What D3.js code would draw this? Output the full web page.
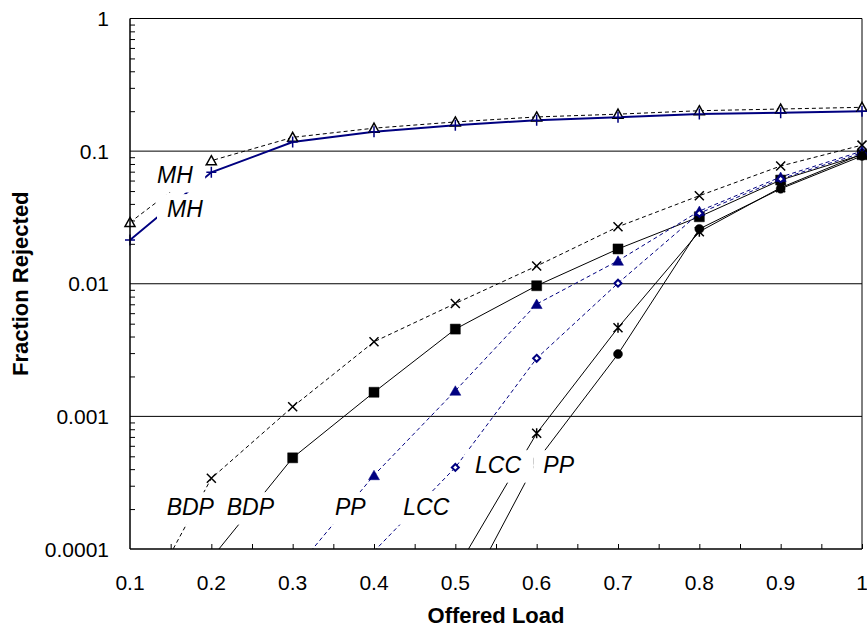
<!DOCTYPE html>
<html>
<head>
<meta charset="utf-8">
<script src="https://cdn.jsdelivr.net/npm/d3@7"></script>
<style>
body { margin: 0; background: #fff; }
svg { display: block; font-family: Arial, "Liberation Sans", sans-serif; }
</style>
</head>
<body>
<div id="container"><svg></svg></div>
<script>
// offered load (x) for every series
let loads = [0.1, 0.2, 0.3, 0.4, 0.5, 0.6, 0.7, 0.8, 0.9, 1.0]

// fraction rejected (null = not drawn)
let mhDashed  = [0.029, 0.0847, 0.127, 0.149, 0.166, 0.181, 0.19, 0.2017, 0.2077, 0.214]
let mhSolid   = [0.0214, 0.0692, 0.117, 0.140, 0.157, 0.171, 0.18, 0.1905, 0.195, 0.1995]
let bdpDashed = [2.5e-5, 3.41e-4, 1.18e-3, 3.65e-3, 7.1e-3, 0.0136, 0.0269, 0.0461, 0.0772, 0.111]
let bdpSolid  = [2e-5, 8.5e-5, 4.87e-4, 1.52e-3, 4.55e-3, 9.66e-3, 0.0183, 0.032, 0.0605, 0.094]
let ppDashed  = [null, null, 6.6e-5, 3.6e-4, 1.56e-3, 7.03e-3, 0.0149, 0.0353, 0.0638, 0.1]
let lccDashed = [null, null, null, 9.6e-5, 4.12e-4, 2.74e-3, 0.0101, 0.034, 0.0617, 0.097]
let lccSolid  = [null, null, null, null, 6.8e-5, 7.45e-4, 4.66e-3, 0.0247, 0.053, 0.095]
let ppSolid   = [null, null, null, null, 3.2e-5, 4.6e-4, 2.95e-3, 0.0259, 0.052, 0.092]

let xTickValues = [0.1, 0.2, 0.3, 0.4, 0.5, 0.6, 0.7, 0.8, 0.9, 1]
let xTickLabels = ['0.1', '0.2', '0.3', '0.4', '0.5', '0.6', '0.7', '0.8', '0.9', '1']
let yTickValues = [0.0001, 0.001, 0.01, 0.1, 1]
let yTickLabels = ['0.0001', '0.001', '0.01', '0.1', '1']

// series labels: text, load, fraction (left end of text baseline)
let labelTexts = ['MH', 'MH', 'BDP', 'BDP', 'PP', 'LCC', 'LCC', 'PP']
let labelLoads = [0.1332, 0.1455, 0.1451, 0.2189, 0.352, 0.436, 0.5242, 0.6082]
let labelFracs = [0.0575, 0.0318, 1.8e-4, 1.8e-4, 1.8e-4, 1.8e-4, 3.73e-4, 3.73e-4]

let navy = '#000080'
let width = 867
let height = 630
let padding = { 'left': 130, 'top': 18.5, 'right': 5, 'bottom': 81 }

let series = [
    { values: mhDashed, color: '#000', lw: 1, dash: '4,3', marker: 'triOpen' },
    { values: mhSolid, color: navy, lw: 2, dash: null, marker: 'plus' },
    { values: bdpDashed, color: '#000', lw: 1, dash: '4,3', marker: 'cross' },
    { values: bdpSolid, color: '#000', lw: 1, dash: null, marker: 'square' },
    { values: ppDashed, color: navy, lw: 1, dash: '4,3', marker: 'triFill' },
    { values: lccDashed, color: navy, lw: 1, dash: '4,3', marker: 'diamond' },
    { values: lccSolid, color: '#000', lw: 1, dash: null, marker: 'star' },
    { values: ppSolid, color: '#000', lw: 1, dash: null, marker: 'circle' }
]

function draw_main() {
    let svg = d3.select('#container').select('svg')
        .attr('width', width)
        .attr('height', height)

    let x = d3.scaleLinear()
        .domain([0.1, 1])
        .range([padding.left, width - padding.right])
    let y = d3.scaleLog()
        .domain([0.0001, 1])
        .range([height - padding.bottom, padding.top])

    svg.append('defs').append('clipPath').attr('id', 'plot-clip')
        .append('rect')
        .attr('x', padding.left).attr('y', padding.top)
        .attr('width', width - padding.left - padding.right)
        .attr('height', height - padding.top - padding.bottom)

    // gridlines at decades
    svg.append('g')
        .selectAll('line')
        .data(yTickValues.filter(v => v > 0.0001))
        .enter().append('line')
        .attr('x1', padding.left).attr('x2', width - padding.right)
        .attr('y1', d => y(d)).attr('y2', d => y(d))
        .attr('stroke', '#000').attr('stroke-width', 1)
    // right border
    svg.append('line')
        .attr('x1', width - padding.right).attr('x2', width - padding.right)
        .attr('y1', padding.top).attr('y2', height - padding.bottom)
        .attr('stroke', '#000').attr('stroke-width', 1)

    // minor ticks y: 2..9 of every decade, inside
    let yMinor = []
    for (let e = -4; e < 0; e++)
        for (let m = 2; m <= 9; m++) yMinor.push(m * Math.pow(10, e))
    let axis_y_minor = d3.axisRight(y).tickValues(yMinor).tickSize(5).tickFormat('')
    svg.append('g')
        .attr('transform', `translate(${padding.left}, 0)`)
        .call(axis_y_minor)
        .call(g => g.select('.domain').remove())
        .selectAll('line').attr('stroke', '#000')

    // minor ticks x: every 0.05, inside
    let xMinor = d3.range(0.15, 1.0001, 0.05)
    let axis_x_minor = d3.axisTop(x).tickValues(xMinor).tickSize(5).tickFormat('')
    svg.append('g')
        .attr('transform', `translate(0, ${height - padding.bottom})`)
        .call(axis_x_minor)
        .call(g => g.select('.domain').remove())
        .selectAll('line').attr('stroke', '#000')

    // series lines
    let lines = svg.append('g').attr('clip-path', 'url(#plot-clip)')
    series.forEach(s => {
        let pts = loads.map((l, i) => ({ l: l, v: s.values[i] }))
        let line = d3.line()
            .defined(d => d.v != null)
            .x(d => x(d.l))
            .y(d => y(d.v))
        lines.append('path')
            .datum(pts)
            .attr('d', line)
            .attr('fill', 'none')
            .attr('stroke', s.color)
            .attr('stroke-width', s.lw)
            .attr('stroke-dasharray', s.dash)
    })

    // markers
    let shapes = {
        triOpen: 'M0,-5L5,4L-5,4Z',
        plus: 'M-5,0H5M0,-5.5V5.5',
        cross: 'M-4.5,-4.5L4.5,4.5M-4.5,4.5L4.5,-4.5',
        square: 'M-5,-5H5V5H-5Z',
        triFill: 'M0,-5L5.5,4.5L-5.5,4.5Z',
        diamond: 'M0,-3.5L3.5,0L0,3.5L-3.5,0Z',
        star: 'M-4.5,-4.5L4.5,4.5M-4.5,4.5L4.5,-4.5M0,-5V5',
        circle: 'M4.5,0A4.5,4.5,0,1,1,-4.5,0A4.5,4.5,0,1,1,4.5,0Z'
    }
    series.forEach(s => {
        let pts = loads.map((l, i) => ({ l: l, v: s.values[i] }))
            .filter(d => d.v != null && d.v >= 0.0001)
        let filled = ['square', 'triFill', 'circle'].includes(s.marker)
        let open = ['triOpen', 'diamond'].includes(s.marker)
        svg.append('g')
            .selectAll('path')
            .data(pts)
            .enter().append('path')
            .attr('transform', d => `translate(${x(d.l)}, ${y(d.v)})`)
            .attr('d', shapes[s.marker])
            .attr('fill', filled ? s.color : (open ? '#fff' : 'none'))
            .attr('stroke', s.color)
            .attr('stroke-width', filled ? 0.5 : (s.marker == 'diamond' ? 2 : 1.5))
    })

    // labels with white boxes over the lines
    let lab = svg.append('g')
    labelTexts.forEach((t, i) => {
        let g = lab.append('g')
        let bx = x(labelLoads[i])
        let by = y(labelFracs[i])
        let txt = g.append('text')
            .attr('x', bx)
            .attr('y', by)
            .attr('font-size', '23px')
            .attr('font-style', 'italic')
            .attr('fill', '#000')
            .text(t)
        let bb = txt.node().getBBox()
        g.insert('rect', 'text')
            .attr('x', bb.x - 10)
            .attr('y', by - 23)
            .attr('width', bb.width + 22)
            .attr('height', 32.5)
            .attr('fill', '#fff')
    })

    // axes lines
    svg.append('line')
        .attr('x1', padding.left).attr('x2', padding.left)
        .attr('y1', padding.top).attr('y2', height - padding.bottom)
        .attr('stroke', '#000').attr('stroke-width', 1.5)
    svg.append('line')
        .attr('x1', padding.left).attr('x2', width - padding.right)
        .attr('y1', height - padding.bottom).attr('y2', height - padding.bottom)
        .attr('stroke', '#000').attr('stroke-width', 1.5)

    // tick labels
    svg.append('g')
        .selectAll('text')
        .data(yTickValues)
        .enter().append('text')
        .attr('x', 109)
        .attr('y', d => y(d) + 7.5)
        .attr('text-anchor', 'end')
        .attr('font-size', '21px')
        .text((d, i) => yTickLabels[i])
    svg.append('g')
        .selectAll('text')
        .data(xTickValues)
        .enter().append('text')
        .attr('x', d => x(d))
        .attr('y', 589.5)
        .attr('text-anchor', 'middle')
        .attr('font-size', '21px')
        .text((d, i) => xTickLabels[i])

    // axis titles
    svg.append('text')
        .attr('x', padding.left + (width - padding.left - padding.right) / 2)
        .attr('y', 623)
        .attr('text-anchor', 'middle')
        .attr('font-size', '22px')
        .attr('font-weight', 'bold')
        .text('Offered Load')
    svg.append('g')
        .attr('transform', `translate(28, ${padding.top + (height - padding.top - padding.bottom) / 2}) rotate(-90)`)
        .append('text')
        .attr('text-anchor', 'middle')
        .attr('font-size', '22px')
        .attr('font-weight', 'bold')
        .text('Fraction Rejected')
}

draw_main()
</script>
</body>
</html>
